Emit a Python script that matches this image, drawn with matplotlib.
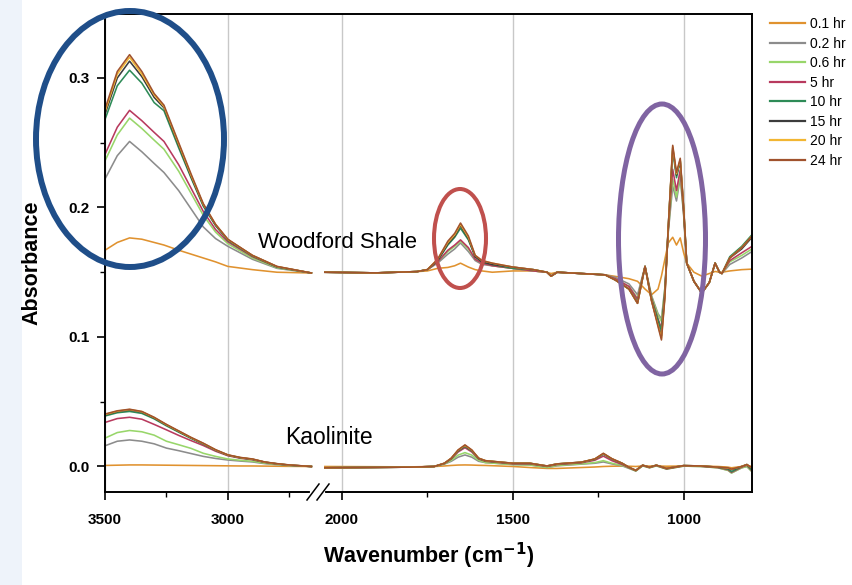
import numpy as np
import matplotlib
matplotlib.use("Agg")
import matplotlib.pyplot as plt
from matplotlib.patches import Ellipse, Rectangle
from matplotlib.lines import Line2D

plt.rcParams['font.family'] = ['Liberation Sans', 'DejaVu Sans']

# series
labels = ['0.1 hr', '0.2 hr', '0.6 hr', '5 hr', '10 hr', '15 hr', '20 hr', '24 hr']
colors = ['#e0922f', '#8c8c8c', '#98d66a', '#b83a5e', '#2e8b57', '#3c3c3c', '#f2b632', '#a0522d']

# Woodford Shale, 3500-2660 cm-1
wf_hi_wn = [3500, 3450, 3400, 3350, 3300, 3260, 3200, 3150, 3100, 3050, 3000, 2900, 2800, 2660]
wf_hi = [
    [0.167, 0.173, 0.1765, 0.1755, 0.173, 0.171, 0.167, 0.164, 0.161, 0.158, 0.1545, 0.152, 0.150, 0.1494],
    [0.222, 0.240, 0.251, 0.243, 0.234, 0.227, 0.213, 0.199, 0.185, 0.176, 0.170, 0.160, 0.153, 0.1494],
    [0.236, 0.256, 0.269, 0.261, 0.252, 0.245, 0.228, 0.211, 0.194, 0.181, 0.172, 0.161, 0.1535, 0.1494],
    [0.241, 0.262, 0.275, 0.267, 0.258, 0.251, 0.233, 0.215, 0.197, 0.183, 0.1735, 0.162, 0.154, 0.1494],
    [0.268, 0.294, 0.306, 0.296, 0.281, 0.2747, 0.246, 0.223, 0.201, 0.186, 0.1745, 0.1625, 0.154, 0.1494],
    [0.272, 0.300, 0.313, 0.301, 0.285, 0.277, 0.248, 0.224, 0.202, 0.1865, 0.175, 0.163, 0.1543, 0.1494],
    [0.274, 0.303, 0.316, 0.303, 0.287, 0.278, 0.249, 0.225, 0.2025, 0.187, 0.1752, 0.163, 0.1544, 0.1494],
    [0.276, 0.305, 0.318, 0.305, 0.288, 0.279, 0.250, 0.226, 0.203, 0.187, 0.1755, 0.163, 0.1545, 0.1494],
]

# Woodford Shale, 2050-800 cm-1
wf_lo_wn = [2050, 1900, 1780, 1750, 1720, 1690, 1670, 1653, 1630, 1610, 1590, 1560, 1500, 1440,
            1400, 1388, 1370, 1300, 1230, 1200, 1160, 1135, 1113, 1094, 1075, 1065, 1055, 1045,
            1032, 1021, 1010, 1000, 991, 970, 947, 925, 908, 895, 888, 865, 830, 800]
wf_lo = [
    [0.150, 0.1495, 0.1505, 0.151, 0.153, 0.1537, 0.155, 0.157, 0.154, 0.152, 0.151, 0.150, 0.151, 0.151,
     0.150, 0.149, 0.150, 0.149, 0.148, 0.1468, 0.145, 0.143, 0.137, 0.1326, 0.137, 0.147, 0.160, 0.1726,
     0.177, 0.171, 0.1765, 0.165, 0.157, 0.150, 0.147, 0.149, 0.1506, 0.150, 0.150, 0.151, 0.152, 0.1524],
    [0.150, 0.1495, 0.1505, 0.152, 0.157, 0.164, 0.168, 0.1726, 0.166, 0.159, 0.156, 0.155, 0.153, 0.151,
     0.150, 0.147, 0.150, 0.149, 0.148, 0.146, 0.141, 0.1326, 0.1545, 0.132, 0.118, 0.114, 0.138, 0.181,
     0.2165, 0.205, 0.223, 0.194, 0.157, 0.143, 0.134, 0.142, 0.157, 0.150, 0.149, 0.156, 0.161, 0.166],
    [0.150, 0.1495, 0.1505, 0.152, 0.158, 0.166, 0.170, 0.174, 0.168, 0.160, 0.157, 0.155, 0.153, 0.151,
     0.150, 0.147, 0.150, 0.149, 0.148, 0.145, 0.139, 0.130, 0.1545, 0.131, 0.117, 0.112, 0.137, 0.182,
     0.222, 0.208, 0.226, 0.195, 0.157, 0.143, 0.134, 0.142, 0.157, 0.150, 0.149, 0.158, 0.163, 0.168],
    [0.150, 0.1495, 0.1505, 0.152, 0.158, 0.167, 0.171, 0.175, 0.169, 0.160, 0.157, 0.155, 0.153, 0.151,
     0.150, 0.147, 0.150, 0.149, 0.148, 0.145, 0.139, 0.129, 0.1545, 0.130, 0.114, 0.1067, 0.135, 0.183,
     0.2295, 0.213, 0.229, 0.196, 0.157, 0.143, 0.134, 0.142, 0.157, 0.150, 0.149, 0.159, 0.165, 0.170],
    [0.150, 0.1495, 0.1505, 0.152, 0.159, 0.171, 0.177, 0.184, 0.175, 0.162, 0.158, 0.156, 0.153, 0.152,
     0.150, 0.147, 0.150, 0.149, 0.148, 0.144, 0.137, 0.127, 0.1545, 0.129, 0.113, 0.105, 0.134, 0.185,
     0.244, 0.223, 0.236, 0.199, 0.157, 0.143, 0.134, 0.142, 0.157, 0.150, 0.149, 0.162, 0.170, 0.179],
    [0.150, 0.1495, 0.1505, 0.152, 0.159, 0.172, 0.178, 0.186, 0.176, 0.162, 0.158, 0.156, 0.154, 0.152,
     0.150, 0.147, 0.150, 0.149, 0.148, 0.144, 0.137, 0.126, 0.1545, 0.128, 0.110, 0.101, 0.132, 0.185,
     0.246, 0.225, 0.236, 0.199, 0.157, 0.143, 0.134, 0.142, 0.157, 0.150, 0.149, 0.161, 0.168, 0.177],
    [0.150, 0.1495, 0.1505, 0.152, 0.160, 0.173, 0.179, 0.187, 0.177, 0.163, 0.159, 0.157, 0.154, 0.152,
     0.150, 0.147, 0.150, 0.149, 0.148, 0.144, 0.137, 0.126, 0.1545, 0.128, 0.109, 0.099, 0.131, 0.185,
     0.247, 0.226, 0.237, 0.200, 0.157, 0.143, 0.134, 0.142, 0.157, 0.150, 0.149, 0.161, 0.169, 0.178],
    [0.150, 0.1495, 0.1505, 0.152, 0.160, 0.174, 0.180, 0.188, 0.178, 0.163, 0.159, 0.157, 0.154, 0.152,
     0.150, 0.147, 0.150, 0.149, 0.148, 0.144, 0.137, 0.126, 0.1545, 0.128, 0.108, 0.0977, 0.130, 0.185,
     0.248, 0.227, 0.238, 0.200, 0.157, 0.143, 0.134, 0.142, 0.157, 0.150, 0.149, 0.161, 0.169, 0.178],
]

# Kaolinite, 3500-2660 cm-1
ka_hi_wn = [3500, 3450, 3400, 3350, 3300, 3250, 3200, 3150, 3100, 3050, 3000, 2950, 2900, 2850, 2800, 2750, 2660]
ka_hi = [
    [0.0008, 0.0010, 0.0012, 0.0012, 0.0011, 0.0010, 0.0009, 0.0008, 0.0007, 0.0006, 0.0005, 0.0004, 0.0004, 0.0003, 0.0002, 0.0001, 0.0],
    [0.0160, 0.0195, 0.0205, 0.0195, 0.0175, 0.0142, 0.0122, 0.0100, 0.0078, 0.0062, 0.0050, 0.0042, 0.0035, 0.0022, 0.0014, 0.0007, 0.0],
    [0.0219, 0.0262, 0.0278, 0.0268, 0.0242, 0.0195, 0.0168, 0.0140, 0.0102, 0.0078, 0.0058, 0.0048, 0.0040, 0.0026, 0.0016, 0.0008, 0.0],
    [0.0340, 0.0370, 0.0380, 0.0365, 0.0325, 0.0283, 0.0240, 0.0200, 0.0162, 0.0118, 0.0083, 0.0064, 0.0052, 0.0032, 0.0019, 0.0010, 0.0],
    [0.0390, 0.0415, 0.0425, 0.0410, 0.0368, 0.0314, 0.0265, 0.0217, 0.0173, 0.0125, 0.0087, 0.0067, 0.0055, 0.0033, 0.0020, 0.0010, 0.0],
    [0.0398, 0.0424, 0.0436, 0.0420, 0.0375, 0.0321, 0.0271, 0.0221, 0.0176, 0.0127, 0.0088, 0.0068, 0.0056, 0.0034, 0.0021, 0.0011, 0.0],
    [0.0402, 0.0427, 0.0440, 0.0423, 0.0378, 0.0323, 0.0273, 0.0223, 0.0178, 0.0128, 0.0089, 0.0069, 0.0057, 0.0034, 0.0021, 0.0011, 0.0],
    [0.0405, 0.0430, 0.0442, 0.0425, 0.0380, 0.0325, 0.0275, 0.0225, 0.0180, 0.0130, 0.0090, 0.0070, 0.0058, 0.0035, 0.0022, 0.0012, 0.0],
]

# Kaolinite, 2050-800 cm-1
ka_lo_wn = [2050, 1800, 1730, 1700, 1680, 1660, 1640, 1620, 1600, 1580, 1500, 1450, 1400, 1370, 1300, 1260,
            1235, 1210, 1180, 1160, 1140, 1120, 1100, 1080, 1050, 1000, 950, 900, 870, 860, 830, 815, 800]
ka_lo = [
    [0.0, -0.0003, 0.0, 0.0004, 0.0008, 0.0011, 0.0012, 0.0011, 0.0009, 0.0008, 0.0, -0.0008, -0.0015, -0.0015, -0.0008, -0.0004,
     0.0, 0.0002, 0.0003, 0.0002, 0.0, 0.0004, 0.0003, 0.0004, 0.0002, 0.0004, 0.0003, 0.0, -0.0005, -0.001, 0.0, 0.0008, 0.0],
    [-0.001, -0.0005, 0.0, 0.0018, 0.0040, 0.0072, 0.0089, 0.0072, 0.0040, 0.0030, 0.0015, 0.0012, -0.0008, 0.0005, 0.0018, 0.0025,
     0.0035, 0.0020, 0.0005, -0.0015, -0.0035, 0.0005, -0.0010, 0.0005, -0.0020, 0.0003, 0.0, -0.0010, -0.0030, -0.0050, -0.0010, 0.0, -0.0040],
    [-0.001, -0.0005, 0.0, 0.0020, 0.0048, 0.0088, 0.0107, 0.0088, 0.0048, 0.0030, 0.0015, 0.0012, -0.0008, 0.0008, 0.0020, 0.0030,
     0.0045, 0.0025, 0.0008, -0.0012, -0.0035, 0.0005, -0.0010, 0.0005, -0.0020, 0.0003, 0.0, -0.0010, -0.0030, -0.0050, -0.0010, 0.0, -0.0040],
    [-0.001, -0.0005, 0.0, 0.0023, 0.0058, 0.0112, 0.0145, 0.0112, 0.0058, 0.0040, 0.0020, 0.0020, 0.0, 0.0015, 0.0028, 0.0048,
     0.0080, 0.0045, 0.0015, -0.0010, -0.0032, 0.0008, -0.0008, 0.0008, -0.0018, 0.0005, 0.0002, -0.0008, -0.0025, -0.0045, -0.0005, 0.0010, -0.0035],
    [-0.001, -0.0005, 0.0, 0.0024, 0.0061, 0.0120, 0.0155, 0.0120, 0.0061, 0.0043, 0.0024, 0.0024, 0.0003, 0.0019, 0.0032, 0.0055,
     0.0095, 0.0057, 0.0023, -0.0007, -0.0030, 0.0010, -0.0006, 0.0010, -0.0016, 0.0007, 0.0004, -0.0006, -0.0020, -0.0040, 0.0, 0.0015, -0.0030],
    [-0.001, -0.0005, 0.0, 0.0025, 0.0063, 0.0124, 0.0160, 0.0124, 0.0063, 0.0044, 0.0025, 0.0025, 0.0004, 0.0020, 0.0033, 0.0057,
     0.0098, 0.0059, 0.0025, -0.0006, -0.0030, 0.0010, -0.0006, 0.0010, -0.0015, 0.0007, 0.0004, -0.0005, -0.0015, -0.0025, 0.0, 0.0015, -0.0015],
    [-0.001, -0.0005, 0.0, 0.0025, 0.0064, 0.0126, 0.0163, 0.0126, 0.0064, 0.0045, 0.0025, 0.0025, 0.0004, 0.0020, 0.0033, 0.0058,
     0.0100, 0.0060, 0.0025, -0.0006, -0.0030, 0.0010, -0.0006, 0.0010, -0.0015, 0.0007, 0.0004, -0.0005, -0.0012, -0.0020, 0.0, 0.0015, -0.0012],
    [-0.001, -0.0005, 0.0, 0.0025, 0.0064, 0.0128, 0.0167, 0.0128, 0.0064, 0.0045, 0.0025, 0.0025, 0.0004, 0.0020, 0.0033, 0.0058,
     0.0102, 0.0060, 0.0025, -0.0006, -0.0030, 0.0010, -0.0006, 0.0010, -0.0015, 0.0007, 0.0004, -0.0005, -0.0010, -0.0020, 0.0, 0.0015, -0.0010],
]

xticks = [3500, 3000, 2000, 1500, 1000]
xminor = [3250, 2750, 1750, 1250]
yticks = [0.0, 0.1, 0.2, 0.3]
yminor = [0.05, 0.15, 0.25]

# broken wavenumber axis: 3500-2650 and 2050-800, with a narrow gap in between
brk_w = [800, 2050, 2650, 3500]
brk_u = [0, 426.7, 437.7, 646.3]


def fwd(w):
    return np.interp(w, brk_w, brk_u)


def inv(u):
    return np.interp(u, brk_u, brk_w)


W, H = 853, 585
fig = plt.figure(figsize=(W / 100, H / 100), dpi=100)
fig.add_artist(Rectangle((0, 0), 22 / W, 1, transform=fig.transFigure,
                         facecolor='#eef3fa', edgecolor='none', zorder=-5))
ax = fig.add_axes([105 / W, 1 - 492 / H, 647 / W, 478 / H])
ax.set_xscale('function', functions=(fwd, inv))
ax.set_xlim(3500, 800)
ax.set_ylim(-0.0197, 0.3494)

for i, lab in enumerate(labels):
    ax.plot(wf_hi_wn, wf_hi[i], color=colors[i], lw=1.15, label=lab)
    ax.plot(wf_lo_wn, wf_lo[i], color=colors[i], lw=1.15)
    ax.plot(ka_hi_wn, ka_hi[i], color=colors[i], lw=1.15)
    ax.plot(ka_lo_wn, ka_lo[i], color=colors[i], lw=1.15)

ax.set_xticks(xticks, labels=[str(t) for t in xticks], fontweight='bold', fontsize=11)
ax.set_xticks(xminor, minor=True)
ax.set_yticks(yticks, labels=['%.1f' % t for t in yticks], fontweight='bold', fontsize=11)
ax.set_yticks(yminor, minor=True)
ax.tick_params(which='major', direction='out', length=6, width=1.2, pad=5)
ax.tick_params(axis='x', which='major', pad=9)
ax.tick_params(which='minor', direction='out', length=3.5, width=1.0)
ax.grid(axis='x', which='major', color='#c8c8c8', lw=1.0)
for s in ax.spines.values():
    s.set_linewidth(1.4)

ax.set_xlabel('Wavenumber (cm$^{\\mathbf{-1}}$)', fontsize=15.5, fontweight='bold', labelpad=10)
ax.set_ylabel('Absorbance', fontsize=15.5, fontweight='bold')
ax.yaxis.set_label_coords(-0.097, 0.48)

ax.text(0.360, 0.521, 'Woodford Shale', transform=ax.transAxes, fontsize=16, ha='center', va='center')
ax.text(0.346, 0.115, 'Kaolinite', transform=ax.transAxes, fontsize=16.5, ha='center', va='center')

# axis break marks
fig.add_artist(Line2D([312 / W, 323 / W], [1 - 492 / H, 1 - 492 / H], transform=fig.transFigure,
                      color='white', lw=3, zorder=5))
for x0 in (307, 317):
    fig.add_artist(Line2D([x0 / W, (x0 + 12) / W], [1 - 500 / H, 1 - 484 / H],
                          transform=fig.transFigure, color='black', lw=1.1, zorder=6))

# highlight ellipses
for cx, cy, ew, eh, col, lw in [(130, 139, 188, 256, '#1f4e89', 4.3),
                                (460, 238.5, 52, 99, '#c0504d', 2.9),
                                (662, 239, 87, 270, '#8064a2', 3.6)]:
    fig.add_artist(Ellipse((cx / W, 1 - cy / H), ew / W, eh / H, transform=fig.transFigure,
                           fill=False, edgecolor=col, lw=lw, zorder=10))

leg = ax.legend(loc='upper left', bbox_to_anchor=(770 / W, 1 - 17 / H), bbox_transform=fig.transFigure,
                frameon=False, fontsize=10, handlelength=2.5, handletextpad=0.4, labelspacing=0.4,
                borderaxespad=0, borderpad=0)
for h in leg.get_lines():
    h.set_linewidth(1.6)

fig.savefig('out.png', dpi=100)
